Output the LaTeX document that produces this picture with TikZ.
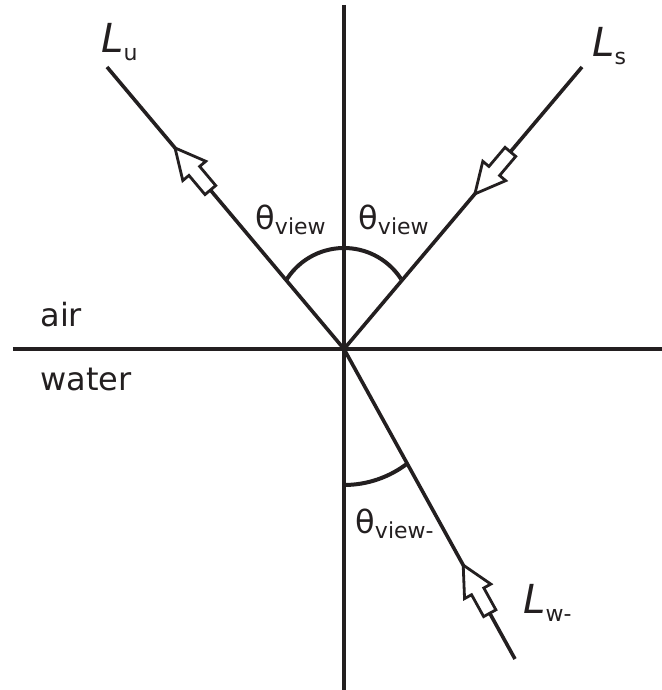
\documentclass[tikz,border=0pt]{standalone}
\usepackage{fontspec}
\setmainfont{DejaVu Sans}
\usepackage{xcolor}
\usepackage{tikz}
\usetikzlibrary{calc}
\definecolor{ink}{RGB}{35,31,32}
\tikzset{
    axisline/.style={line width=1.6pt, color=ink},
    rayline/.style={line width=1.8pt, color=ink},
    anglearc/.style={line width=2pt, color=ink},
    labeltext/.style={anchor=base west, inner sep=0pt, text=ink, font=\fontsize{16}{19}\selectfont},
    flowarrow/.pic={\draw[line width=1.4pt, color=ink, fill=white, line join=miter] (0,0) -- (-30,15) -- (-30,7) -- (-55,7) -- (-55,-7) -- (-30,-7) -- (-30,-15) -- cycle;}
}
\newcommand{\radL}[1]{{\fontsize{20}{24}\selectfont\itshape L}\raisebox{-4pt}{\fontsize{11}{13}\selectfont #1}}
\newcommand{\angview}[1]{θ\raisebox{-2.5pt}{\fontsize{11}{13}\selectfont #1}}

\begin{document}
\begin{tikzpicture}[x=0.5pt, y=0.5pt]
    \useasboundingbox (-344,-341) rectangle (318,349);
    % Points
    \coordinate (O) at (0,0);
    \coordinate (top) at (0,344);
    \coordinate (bottom) at (0,-341);
    \coordinate (left) at (-331,0);
    \coordinate (right) at (318,0);
    \coordinate (Lu) at (-237,282);
    \coordinate (Ls) at (238,282);
    \coordinate (Lw) at (171,-310);

    % Axes and rays
    \draw [axisline] (top) -- (bottom);
    \draw [axisline] (left) -- (right);
    \draw [rayline] (O) -- (Lu);
    \draw [rayline] (O) -- (Ls);
    \draw [rayline] (O) -- (Lw);

    % Angles
    \draw [anglearc] (0,33) ++(147:68) arc[start angle=147, end angle=33, radius=68];
    \draw [anglearc] (0,-32) ++(-90:104) arc[start angle=-90, end angle=-52, radius=104];

    % Flow arrows
    \pic [rotate=130] at ($(O)!0.713!(Lu)$) {flowarrow};
    \pic [rotate=229.8] at ($(O)!0.55!(Ls)$) {flowarrow};
    \pic [rotate=118.9] at ($(O)!0.697!(Lw)$) {flowarrow};

    % Labels
    \node (air) [labeltext] at (-304,22) {air};
    \node (water) [labeltext] at (-304,-41) {water};
    \node (thetaL) [labeltext] at (-89,119) {\angview{view}};
    \node (thetaR) [labeltext] at (14,119) {\angview{view}};
    \node (thetaW) [labeltext] at (11,-184) {\angview{view-}};
    \node (labelLu) [labeltext] at (-243,296) {\radL{u}};
    \node (labelLs) [labeltext] at (248,292) {\radL{s}};
    \node (labelLw) [labeltext] at (179,-264) {\radL{w-}};
\end{tikzpicture}
\end{document}
